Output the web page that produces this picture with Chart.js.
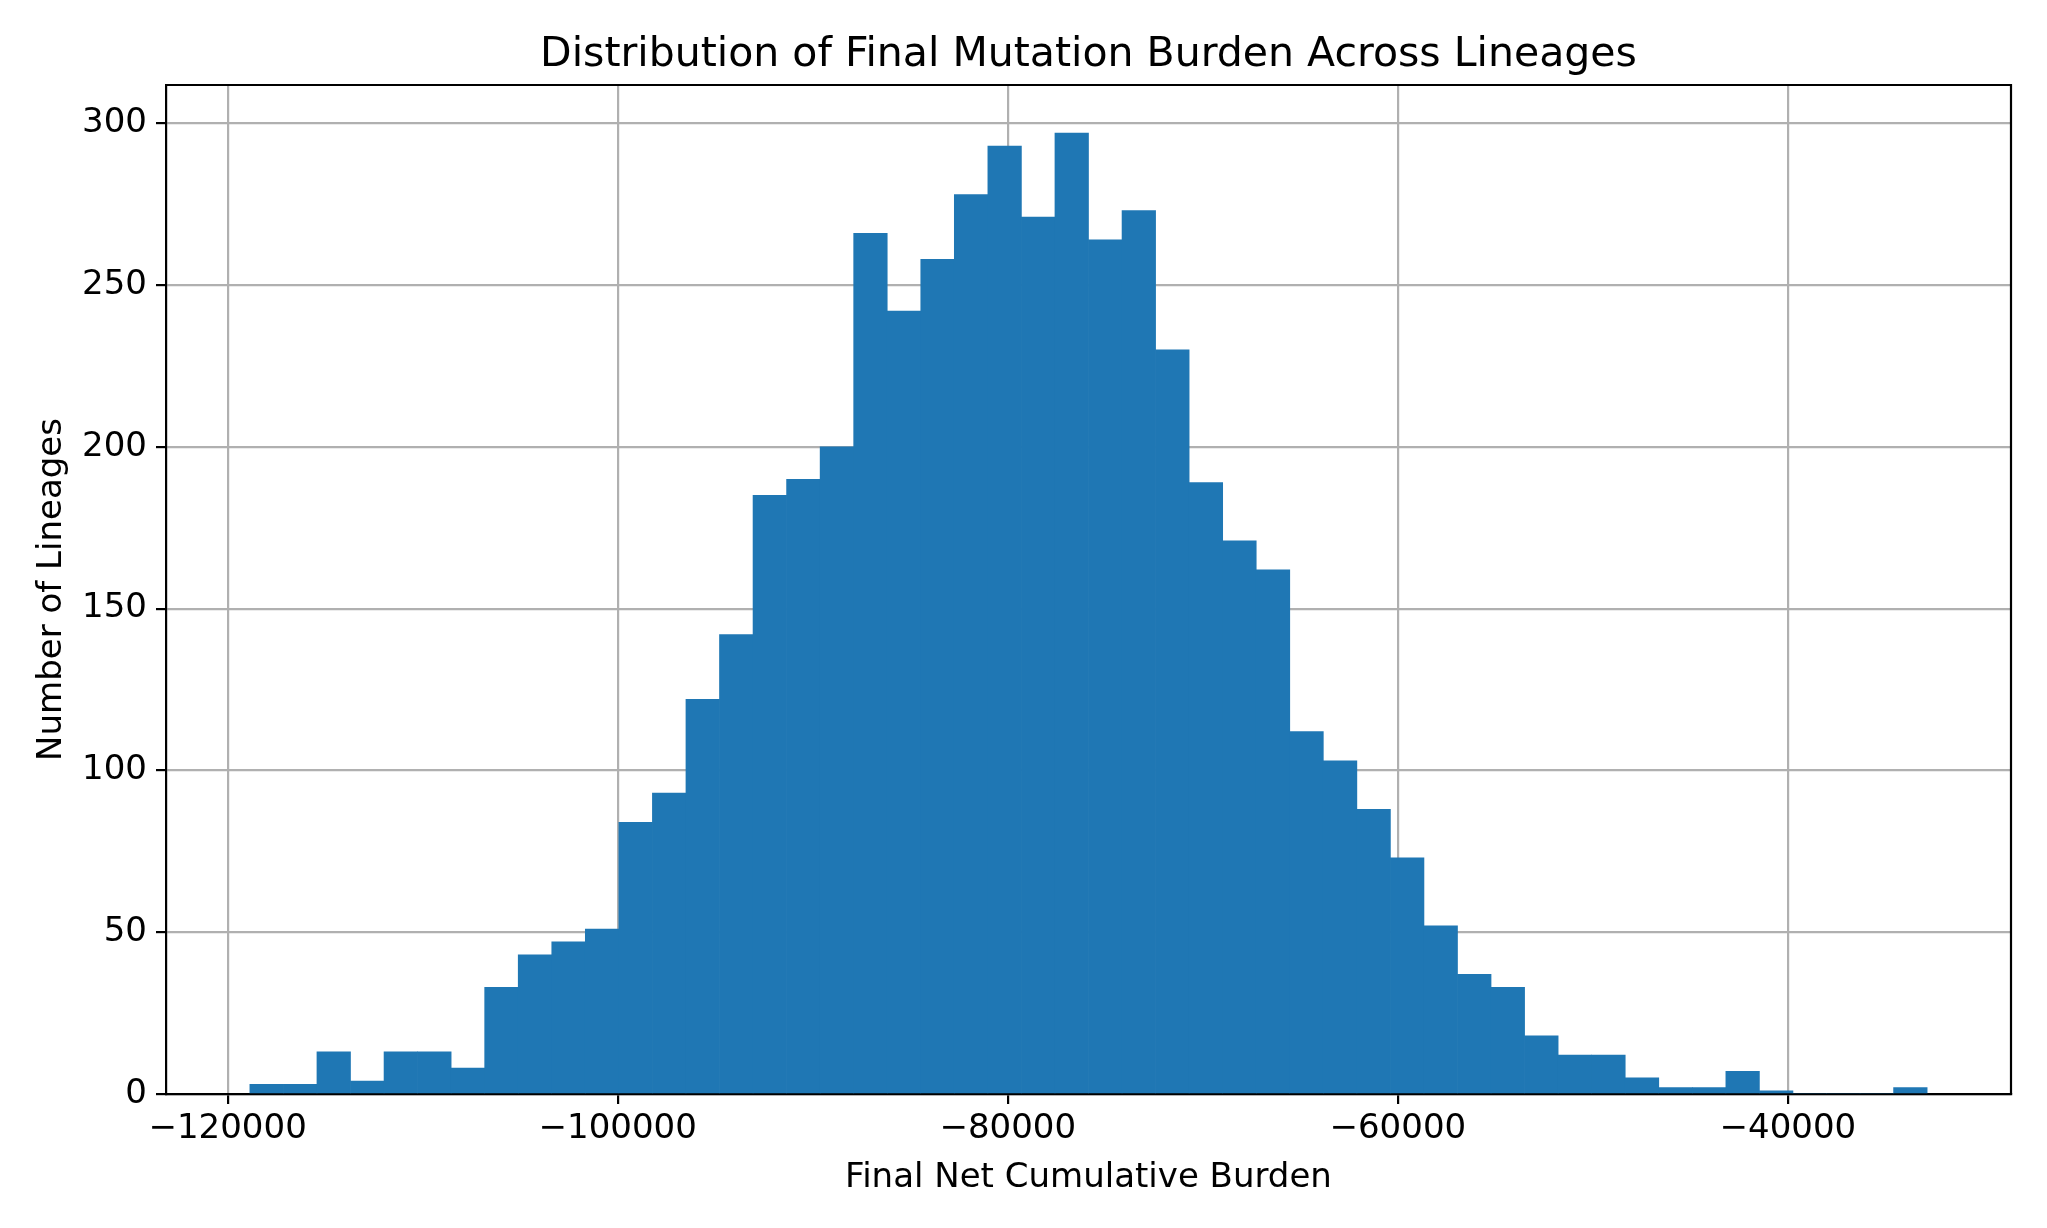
<!DOCTYPE html>
<html>
<head>
<meta charset="utf-8">
<script src="https://cdn.jsdelivr.net/npm/chart.js@4.4.1/dist/chart.umd.min.js"></script>
<style>
  html, body { margin: 0; padding: 0; background: #fff; }
  #wrap { width: 2047px; height: 1228px; }
</style>
</head>
<body>
<div id="wrap"><canvas id="hist"></canvas></div>
<script>
// 50 equal-width bins between binLow and binHigh
const binLow = -118860;
const binHigh = -32860;
const counts = [3, 3, 13, 4, 13, 13, 8, 33, 43, 47,
	51, 84, 93, 122, 142, 185, 190, 200, 266, 242,
	258, 278, 293, 271, 297, 264, 273, 230, 189, 171,
	162, 112, 103, 88, 73, 52, 37, 33, 18, 12,
	12, 5, 2, 2, 7, 1, 0, 0, 0, 2];
const xTicks = [-120000, -100000, -80000, -60000, -40000];
const yTicks = [0, 50, 100, 150, 200, 250, 300];
const chartTitle = "Distribution of Final Mutation Burden Across Lineages";

const binWidth = (binHigh - binLow) / counts.length;
const points = counts.map((c, i) => ({ x: binLow + (i + 0.5) * binWidth, y: c }));

// matplotlib-ish margins (5% each side)
const span = binHigh - binLow;
const xMin = binLow - span * 0.05;
const xMax = binHigh + span * 0.05;
const yMax = Math.max(...counts) * 1.05;

const FONT = "'DejaVu Sans', sans-serif";
const GRID = "#b0b0b0";
const LW = 2.2;

// top + right spines, and the title centred over the axes (like matplotlib)
const frame = {
	id: "frame",
	afterDraw(chart) {
		const { ctx, chartArea: a } = chart;
		ctx.save();
		ctx.strokeStyle = "#000";
		ctx.lineWidth = LW;
		ctx.beginPath();
		ctx.moveTo(a.left, a.top);
		ctx.lineTo(a.right, a.top);
		ctx.lineTo(a.right, a.bottom);
		ctx.stroke();

		ctx.fillStyle = "#000";
		ctx.font = "41px " + FONT;
		ctx.textAlign = "center";
		ctx.textBaseline = "middle";
		ctx.fillText(chartTitle, (a.left + a.right) / 2, 55);
		ctx.restore();
	},
};

new Chart(document.getElementById("hist"), {
	type: "bar",
	data: {
		datasets: [
			{
				label: "lineages",
				data: points,
				backgroundColor: "#1f77b4",
				borderWidth: 0,
				barPercentage: 1,
				categoryPercentage: 1,
			},
		],
	},
	options: {
		responsive: true,
		maintainAspectRatio: false,
		devicePixelRatio: 1,
		animation: false,
		layout: { padding: { left: 0, right: 36, top: 85, bottom: 0 } },
		plugins: {
			legend: { display: false },
			tooltip: { enabled: false },
			title: { display: false },
		},
		scales: {
			x: {
				type: "linear",
				min: xMin,
				max: xMax,
				offset: false,
				z: 1,
				afterBuildTicks: (s) => { s.ticks = xTicks.map((v) => ({ value: v })); },
				afterFit: (s) => { s.height = 134; },
				ticks: {
					color: "#000",
					font: { family: FONT, size: 34 },
					padding: 5,
					maxRotation: 0,
					callback: (v) => (v < 0 ? "\u2212" : "") + Math.abs(v),
				},
				grid: { offset: false, color: GRID, lineWidth: LW, tickColor: "#000", tickWidth: LW, tickLength: 10 },
				border: { display: true, color: "#000", width: LW },
				title: {
					display: true,
					text: "Final Net Cumulative Burden",
					color: "#000",
					font: { family: FONT, size: 34, lineHeight: 1.2 },
					padding: { top: 0, bottom: 29 },
				},
			},
			y: {
				min: 0,
				max: yMax,
				z: 1,
				afterBuildTicks: (s) => { s.ticks = yTicks.map((v) => ({ value: v })); },
				afterFit: (s) => { s.width = 166; },
				ticks: {
					color: "#000",
					font: { family: FONT, size: 34 },
					padding: 9,
				},
				grid: { color: GRID, lineWidth: LW, tickColor: "#000", tickWidth: LW, tickLength: 10 },
				border: { display: true, color: "#000", width: LW },
				title: {
					display: true,
					text: "Number of Lineages",
					color: "#000",
					font: { family: FONT, size: 34, lineHeight: 1.2 },
					padding: { top: 32, bottom: 0 },
				},
			},
		},
	},
	plugins: [frame],
});
</script>
</body>
</html>
